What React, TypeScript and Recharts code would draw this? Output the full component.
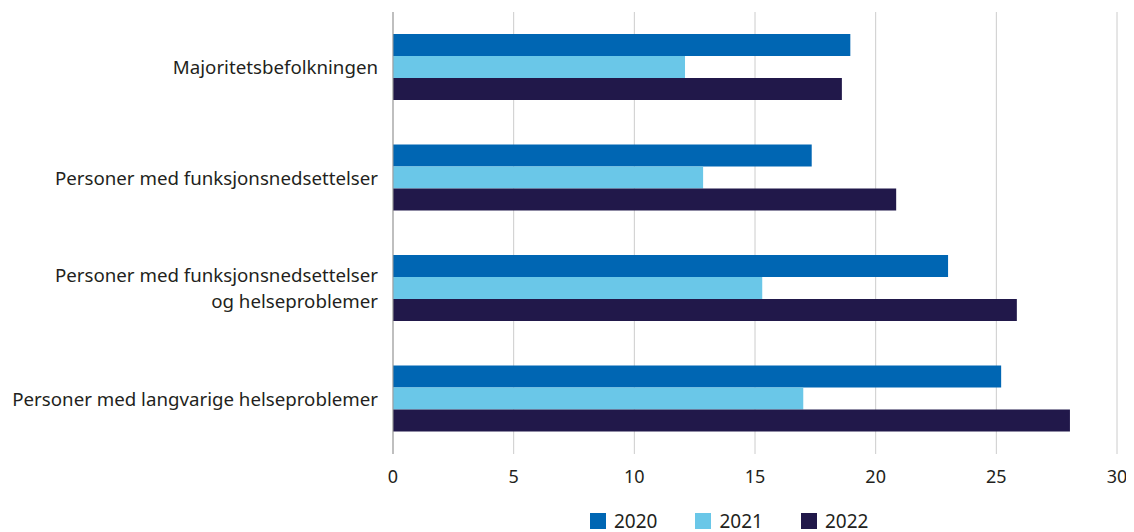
import { Bar, BarChart, CartesianGrid, Legend, XAxis, YAxis } from 'recharts';

const categories = [
  'Majoritetsbefolkningen',
  'Personer med funksjonsnedsettelser',
  'Personer med funksjonsnedsettelser\nog helseproblemer',
  'Personer med langvarige helseproblemer',
];
const values2020 = [18.95, 17.35, 23.0, 25.2];
const values2021 = [12.1, 12.85, 15.3, 17.0];
const values2022 = [18.6, 20.85, 25.85, 28.05];
const xTicks = [0, 5, 10, 15, 20, 25, 30];

const series = [
  { key: 'y2020', name: '2020', color: '#0066b3' },
  { key: 'y2021', name: '2021', color: '#6ac7e8' },
  { key: 'y2022', name: '2022', color: '#21184a' },
];

const data = categories.map((name, i) => ({
  name,
  y2020: values2020[i],
  y2021: values2021[i],
  y2022: values2022[i],
}));

const FONT = '"Noto Sans", sans-serif';
const TEXT = '#231f20';

const CategoryTick = ({ x, y, payload }: any) => {
  const lines = String(payload.value).split('\n');
  const lineHeight = 26;
  const startDy = -((lines.length - 1) * lineHeight) / 2;
  return (
    <text x={x} y={y} textAnchor="end" fill={TEXT} fontSize={18.7} fontFamily={FONT}>
      {lines.map((line, i) => (
        <tspan key={i} x={x} dy={i === 0 ? startDy + 7 : lineHeight}>
          {line}
        </tspan>
      ))}
    </text>
  );
};

const LegendContent = () => (
  <div style={{ display: 'flex', fontFamily: FONT, fontSize: 19, color: TEXT, lineHeight: '20px' }}>
    {series.map((s) => (
      <div key={s.key} style={{ display: 'flex', alignItems: 'center', marginRight: 38 }}>
        <span style={{ width: 16, height: 16, background: s.color, display: 'inline-block', marginRight: 8 }} />
        <span>{s.name}</span>
      </div>
    ))}
  </div>
);

export default function App() {
  return (
    <BarChart
      width={1126}
      height={524}
      data={data}
      layout="vertical"
      margin={{ top: 4, right: 17, bottom: 0, left: 0 }}
      barGap={0}
      barSize={22}
    >
      <CartesianGrid horizontal={false} stroke="#cccccc" />
      <XAxis
        type="number"
        domain={[0, 30]}
        ticks={xTicks}
        axisLine={false}
        tickLine={false}
        tickMargin={10}
        height={58}
        tick={{ fill: TEXT, fontSize: 18, fontFamily: FONT }}
      />
      <YAxis
        type="category"
        dataKey="name"
        width={385}
        axisLine={{ stroke: '#999999' }}
        tickLine={false}
        tickMargin={9}
        tick={<CategoryTick />}
      />
      <Legend
        content={<LegendContent />}
        wrapperStyle={{ position: 'absolute', top: 503, left: 582, width: 'auto' }}
      />
      {series.map((s) => (
        <Bar key={s.key} dataKey={s.key} name={s.name} fill={s.color} isAnimationActive={false} />
      ))}
    </BarChart>
  );
}
